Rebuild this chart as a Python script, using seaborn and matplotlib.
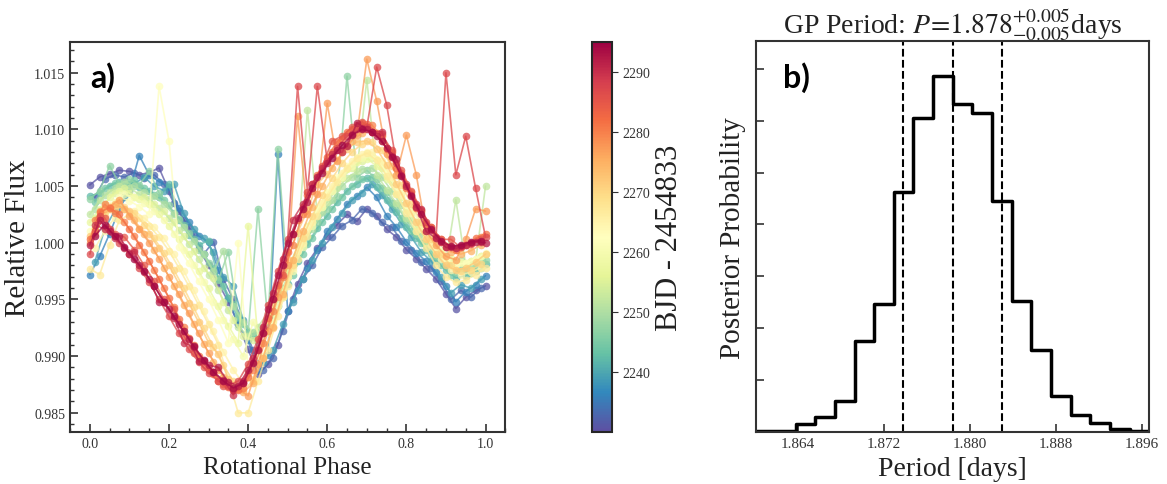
import pandas as pd
import matplotlib
matplotlib.use("Agg")
import matplotlib.pyplot as plt
import seaborn as sns
from matplotlib.ticker import AutoMinorLocator, MultipleLocator

# phase grids of the folded light curve (two cadence offsets)
phase = [0.000, 0.025, 0.050, 0.075, 0.100, 0.125, 0.150, 0.175, 0.200, 0.225,
         0.250, 0.275, 0.300, 0.325, 0.350, 0.375, 0.400, 0.425, 0.450, 0.475,
         0.500, 0.525, 0.550, 0.575, 0.600, 0.625, 0.650, 0.675, 0.700, 0.725,
         0.750, 0.775, 0.800, 0.825, 0.850, 0.875, 0.900, 0.925, 0.950, 0.975,
         1.000]
phase_b = [0.0125, 0.0375, 0.0625, 0.0875, 0.1125, 0.1375, 0.1625, 0.1875, 0.2125, 0.2375,
           0.2625, 0.2875, 0.3125, 0.3375, 0.3625, 0.3875, 0.4125, 0.4375, 0.4625, 0.4875,
           0.5125, 0.5375, 0.5625, 0.5875, 0.6125, 0.6375, 0.6625, 0.6875, 0.7125, 0.7375,
           0.7625, 0.7875, 0.8125, 0.8375, 0.8625, 0.8875, 0.9125, 0.9375, 0.9625, 0.9875]

# relative flux per rotation, named by BJD - 2454833
flux_2231 = [1.0051, 1.0058, 1.0061, 1.0064, 1.0063, 1.0060, 1.0062, 1.0066, 1.0046, 1.0028,
             1.0014, 0.9995, 0.9980, 0.9964, 0.9948, 0.9928, 0.9906, 0.9884, 0.9893, 0.9910,
             0.9940, 0.9964, 0.9982, 0.9995, 1.0006, 1.0016, 1.0025, 1.0019, 1.0030, 1.0024,
             1.0012, 1.0005, 0.9994, 0.9986, 0.9977, 0.9968, 0.9955, 0.9942, 0.9952, 0.9958,
             0.9962]
flux_2236 = [0.9972, 0.9988, 1.0008, 1.0030, 1.0046, 1.0077, 1.0060, 1.0054, 1.0049, 1.0031,
             1.0018, 1.0006, 1.0001, 0.9976, 0.9951, 0.9928, 0.9914, 0.9888, 0.9901, 1.0078,
             0.9940, 0.9958, 0.9978, 0.9994, 1.0010, 1.0021, 1.0034, 1.0041, 1.0049, 1.0040,
             1.0024, 1.0014, 1.0001, 0.9991, 0.9984, 0.9974, 0.9962, 0.9948, 0.9957, 0.9963,
             0.9971]
flux_2242 = [1.0041, 1.0044, 1.0050, 1.0054, 1.0052, 1.0049, 1.0046, 1.0040, 1.0052, 1.0020,
             1.0007, 0.9998, 1.0002, 0.9968, 0.9951, 0.9934, 0.9921, 0.9914, 0.9923, 0.9944,
             0.9964, 0.9984, 0.9999, 1.0013, 1.0024, 1.0036, 1.0046, 1.0052, 1.0057, 1.0049,
             1.0038, 1.0027, 1.0014, 1.0004, 0.9994, 0.9984, 0.9976, 0.9969, 0.9971, 0.9975,
             0.9981]
flux_2247 = [1.0039, 1.0046, 1.0068, 1.0052, 1.0056, 1.0051, 1.0063, 1.0044, 1.0033, 1.0021,
             1.0009, 0.9994, 0.9982, 0.9967, 0.9992, 0.9936, 0.9919, 1.0030, 0.9931, 1.0083,
             0.9970, 0.9990, 1.0005, 1.0018, 1.0030, 1.0041, 1.0147, 1.0058, 1.0064, 1.0056,
             1.0045, 1.0033, 1.0020, 1.0008, 0.9998, 0.9988, 0.9980, 0.9974, 0.9975, 0.9979,
             0.9985]
flux_2252 = [1.0025, 1.0038, 1.0045, 1.0050, 1.0048, 1.0043, 1.0039, 1.0031, 1.0022, 1.0011,
             0.9999, 0.9986, 0.9972, 0.9958, 0.9941, 0.9926, 0.9918, 0.9926, 0.9938, 0.9956,
             0.9977, 0.9996, 1.0117, 1.0025, 1.0036, 1.0048, 1.0057, 1.0063, 1.0144, 1.0060,
             1.0047, 1.0035, 1.0022, 1.0010, 1.0000, 0.9990, 0.9983, 1.0038, 0.9980, 0.9984,
             1.0050]
flux_2257 = [1.0018, 1.0030, 1.0040, 1.0046, 1.0044, 1.0039, 1.0034, 1.0025, 1.0015, 1.0003,
             0.9990, 0.9975, 0.9960, 0.9944, 0.9927, 0.9912, 1.0015, 0.9915, 0.9932, 0.9953,
             0.9976, 0.9997, 1.0015, 1.0030, 1.0044, 1.0055, 1.0065, 1.0071, 1.0074, 1.0068,
             1.0056, 1.0043, 1.0029, 1.0015, 1.0003, 0.9993, 0.9985, 0.9981, 0.9982, 0.9986,
             0.9990]
flux_2262 = [1.0010, 1.0024, 1.0033, 1.0040, 1.0037, 1.0032, 1.0025, 1.0138, 1.0090, 0.9996,
             0.9982, 0.9966, 0.9950, 0.9932, 0.9912, 1.0000, 0.9890, 0.9900, 0.9920, 0.9944,
             0.9970, 0.9993, 1.0013, 1.0030, 1.0045, 1.0058, 1.0068, 1.0076, 1.0080, 1.0074,
             1.0062, 1.0048, 1.0033, 1.0018, 1.0005, 0.9994, 0.9986, 0.9981, 0.9982, 0.9986,
             0.9991]
flux_2267 = [0.9977, 0.9972, 0.9998, 1.0020, 1.0025, 1.0022, 1.0015, 1.0005, 0.9993, 0.9978,
             0.9962, 0.9945, 0.9928, 0.9910, 0.9880, 0.9850, 0.9850, 0.9878, 0.9905, 0.9935,
             0.9962, 0.9986, 1.0006, 1.0024, 1.0040, 1.0054, 1.0066, 1.0075, 1.0079, 1.0073,
             1.0059, 1.0043, 1.0026, 1.0010, 0.9995, 0.9980, 0.9970, 0.9965, 0.9967, 0.9972,
             0.9978]
flux_2272 = [1.0006, 1.0022, 1.0030, 1.0034, 1.0028, 1.0012, 1.0008, 0.9995, 0.9980, 0.9964,
             0.9947, 0.9930, 0.9912, 0.9902, 0.9880, 0.9873, 0.9885, 0.9905, 0.9932, 0.9960,
             0.9986, 1.0009, 1.0029, 1.0052, 1.0061, 1.0073, 1.0083, 1.0089, 1.0090, 1.0083,
             1.0069, 1.0052, 1.0035, 1.0018, 1.0003, 0.9990, 0.9980, 0.9976, 0.9978, 0.9983,
             0.9990]
flux_2277 = [1.0000, 1.0028, 1.0032, 1.0038, 1.0024, 1.0012, 1.0000, 0.9986, 0.9970, 0.9955,
             0.9938, 0.9920, 0.9903, 0.9888, 0.9876, 0.9871, 0.9865, 0.9893, 0.9922, 0.9952,
             0.9980, 1.0112, 1.0025, 1.0043, 1.0123, 1.0072, 1.0086, 1.0095, 1.0162, 1.0125,
             1.0078, 1.0060, 1.0095, 1.0060, 1.0010, 0.9998, 0.9988, 0.9985, 1.0003, 1.0030,
             1.0028]
flux_2282 = [1.0003, 1.0027, 1.0031, 1.0025, 1.0012, 0.9998, 0.9984, 0.9968, 0.9951, 0.9933,
             0.9916, 0.9900, 0.9888, 0.9878, 0.9873, 0.9870, 0.9882, 0.9906, 0.9934, 0.9963,
             0.9992, 1.0020, 1.0042, 1.0060, 1.0076, 1.0089, 1.0098, 1.0104, 1.0105, 1.0097,
             1.0083, 1.0066, 1.0048, 1.0031, 1.0016, 1.0004, 0.9996, 0.9994, 0.9998, 1.0004,
             1.0008]
flux_2287 = [0.9990, 1.0024, 1.0012, 1.0000, 0.9990, 0.9978, 0.9965, 0.9950, 0.9935, 0.9920,
             0.9906, 0.9895, 0.9885, 0.9878, 0.9874, 0.9878, 0.9893, 0.9915, 0.9945, 0.9975,
             1.0003, 1.0138, 1.0045, 1.0138, 1.0072, 1.0084, 1.0094, 1.0100, 1.0102, 1.0155,
             1.0122, 1.0070, 1.0052, 1.0034, 1.0018, 1.0005, 1.0150, 1.0060, 1.0094, 1.0048,
             1.0005]
flux_2292 = [0.9998, 1.0020, 1.0010, 1.0006, 0.9990, 0.9980, 0.9968, 0.9948, 0.9942, 0.9928,
             0.9915, 0.9896, 0.9892, 0.9890, 0.9877, 0.9874, 0.9888, 0.9905, 0.9942, 0.9972,
             1.0000, 1.0022, 1.0036, 1.0058, 1.0070, 1.0082, 1.0085, 1.0106, 1.0100, 1.0094,
             1.0084, 1.0074, 1.0050, 1.0032, 1.0010, 1.0004, 0.9996, 0.9995, 0.9998, 1.0001,
             1.0000]

# rotations sampled on the offset grid
flux_2233 = [1.0040, 1.0056, 1.0060, 1.0058, 1.0062, 1.0057, 1.0060, 1.0052, 1.0035, 1.0020,
             1.0008, 0.9990, 1.0001, 0.9968, 0.9950, 0.9930, 0.9905, 0.9888, 0.9898, 0.9922,
             0.9950, 0.9968, 0.9980, 0.9996, 1.0005, 1.0015, 1.0020, 1.0030, 1.0026, 1.0018,
             1.0014, 1.0002, 0.9994, 0.9983, 0.9978, 0.9966, 0.9950, 0.9958, 0.9952, 0.9960]
flux_2239 = [0.9983, 1.0012, 1.0028, 1.0040, 1.0052, 1.0058, 1.0050, 1.0046, 1.0052, 1.0026,
             1.0012, 1.0004, 0.9992, 0.9970, 0.9962, 0.9932, 0.9918, 0.9895, 0.9905, 0.9928,
             0.9948, 0.9968, 0.9985, 1.0000, 1.0014, 1.0026, 1.0038, 1.0044, 1.0052, 1.0042,
             1.0030, 1.0017, 1.0005, 0.9992, 0.9984, 0.9970, 0.9956, 0.9963, 0.9960, 0.9968]
flux_2244 = [1.0036, 1.0048, 1.0053, 1.0050, 1.0055, 1.0048, 1.0042, 1.0038, 1.0026, 1.0016,
             1.0003, 0.9990, 0.9978, 0.9962, 0.9946, 0.9928, 0.9920, 0.9922, 0.9935, 0.9952,
             0.9972, 0.9990, 1.0004, 1.0018, 1.0030, 1.0040, 1.0050, 1.0056, 1.0058, 1.0048,
             1.0035, 1.0022, 1.0010, 1.0000, 0.9990, 0.9980, 0.9972, 0.9976, 0.9973, 0.9978]
flux_2250 = [1.0030, 1.0042, 1.0048, 1.0054, 1.0050, 1.0045, 1.0041, 1.0034, 1.0025, 1.0014,
             1.0002, 0.9990, 0.9975, 0.9993, 0.9944, 0.9930, 0.9921, 0.9925, 0.9940, 0.9960,
             0.9980, 0.9998, 1.0012, 1.0027, 1.0038, 1.0050, 1.0058, 1.0065, 1.0066, 1.0058,
             1.0046, 1.0033, 1.0020, 1.0008, 0.9998, 0.9988, 0.9982, 0.9985, 0.9978, 0.9983]
flux_2255 = [1.0022, 1.0034, 1.0044, 1.0048, 1.0040, 1.0040, 1.0034, 1.0028, 1.0018, 1.0006,
             0.9993, 0.9978, 0.9969, 0.9948, 0.9932, 0.9918, 0.9914, 0.9922, 0.9938, 0.9958,
             0.9980, 1.0000, 1.0018, 1.0032, 1.0046, 1.0057, 1.0066, 1.0072, 1.0075, 1.0066,
             1.0054, 1.0040, 1.0026, 1.0013, 1.0002, 0.9992, 0.9986, 0.9982, 0.9984, 0.9988]
flux_2260 = [1.0014, 1.0027, 1.0036, 1.0043, 1.0040, 1.0035, 1.0028, 1.0020, 1.0008, 0.9994,
             0.9980, 0.9965, 0.9948, 0.9932, 0.9915, 0.9900, 0.9930, 0.9912, 0.9930, 0.9952,
             0.9975, 0.9996, 1.0015, 1.0032, 1.0046, 1.0058, 1.0068, 1.0075, 1.0077, 1.0070,
             1.0058, 1.0044, 1.0030, 1.0016, 1.0004, 0.9994, 0.9987, 0.9983, 0.9984, 0.9988]
flux_2265 = [0.9995, 1.0010, 1.0022, 1.0030, 1.0028, 1.0022, 1.0014, 1.0004, 0.9990, 0.9975,
             0.9958, 0.9940, 0.9922, 0.9904, 0.9888, 0.9876, 0.9880, 0.9900, 0.9926, 0.9952,
             0.9978, 1.0000, 1.0018, 1.0035, 1.0050, 1.0062, 1.0072, 1.0078, 1.0080, 1.0072,
             1.0058, 1.0042, 1.0026, 1.0012, 0.9998, 0.9986, 0.9976, 0.9972, 0.9974, 0.9978]
flux_2270 = [1.0008, 1.0024, 1.0030, 1.0032, 1.0026, 1.0016, 1.0004, 0.9991, 0.9976, 0.9960,
             0.9943, 0.9925, 0.9908, 0.9892, 0.9878, 0.9870, 0.9878, 0.9898, 0.9925, 0.9953,
             0.9980, 1.0004, 1.0024, 1.0042, 1.0057, 1.0070, 1.0080, 1.0087, 1.0089, 1.0082,
             1.0068, 1.0051, 1.0034, 1.0018, 1.0003, 0.9990, 0.9980, 0.9975, 0.9976, 0.9981]
flux_2275 = [1.0012, 1.0030, 1.0034, 1.0030, 1.0020, 1.0008, 0.9994, 0.9978, 0.9962, 0.9945,
             0.9928, 0.9911, 0.9895, 0.9882, 0.9872, 0.9868, 0.9876, 0.9898, 0.9926, 0.9955,
             0.9985, 1.0010, 1.0032, 1.0050, 1.0066, 1.0080, 1.0090, 1.0097, 1.0098, 1.0090,
             1.0076, 1.0060, 1.0043, 1.0027, 1.0013, 1.0001, 0.9992, 0.9990, 0.9993, 0.9998]
flux_2280 = [1.0020, 1.0034, 1.0026, 1.0018, 1.0006, 0.9992, 0.9976, 0.9960, 0.9943, 0.9926,
             0.9910, 0.9896, 0.9884, 0.9875, 0.9870, 0.9872, 0.9888, 0.9912, 0.9940, 0.9970,
             0.9998, 1.0025, 1.0046, 1.0064, 1.0080, 1.0092, 1.0100, 1.0106, 1.0104, 1.0094,
             1.0080, 1.0062, 1.0045, 1.0028, 1.0014, 1.0003, 0.9997, 0.9996, 1.0000, 1.0005]
flux_2285 = [1.0010, 1.0022, 1.0008, 1.0005, 0.9994, 0.9980, 0.9966, 0.9950, 0.9942, 0.9918,
             0.9903, 0.9890, 0.9886, 0.9874, 0.9870, 0.9876, 0.9895, 0.9920, 0.9950, 0.9972,
             1.0008, 1.0032, 1.0052, 1.0068, 1.0090, 1.0094, 1.0102, 1.0107, 1.0098, 1.0096,
             1.0082, 1.0064, 1.0046, 1.0029, 1.0014, 1.0003, 1.0003, 0.9996, 0.9999, 1.0003]
flux_2290 = [1.0016, 1.0012, 1.0004, 0.9995, 0.9992, 0.9974, 0.9962, 0.9948, 0.9934, 0.9912,
             0.9908, 0.9896, 0.9886, 0.9879, 0.9866, 0.9878, 0.9898, 0.9926, 0.9956, 0.9986,
             1.0020, 1.0034, 1.0052, 1.0066, 1.0078, 1.0080, 1.0096, 1.0101, 1.0098, 1.0098,
             1.0077, 1.0060, 1.0042, 1.0030, 1.0011, 1.0001, 0.9996, 0.9997, 1.0000, 1.0001]
flux_2294 = [1.0006, 1.0016, 1.0006, 0.9996, 0.9986, 0.9975, 0.9962, 0.9948, 0.9935, 0.9922,
             0.9909, 0.9897, 0.9886, 0.9878, 0.9872, 0.9876, 0.9894, 0.9920, 0.9950, 0.9980,
             1.0008, 1.0030, 1.0048, 1.0062, 1.0075, 1.0086, 1.0095, 1.0100, 1.0098, 1.0090,
             1.0076, 1.0059, 1.0041, 1.0025, 1.0012, 1.0002, 0.9997, 0.9998, 1.0001, 1.0002]

cycles_a = {2231: flux_2231, 2236: flux_2236, 2242: flux_2242, 2247: flux_2247,
            2252: flux_2252, 2257: flux_2257, 2262: flux_2262, 2267: flux_2267,
            2272: flux_2272, 2277: flux_2277, 2282: flux_2282, 2287: flux_2287,
            2292: flux_2292}
cycles_b = {2233: flux_2233, 2239: flux_2239, 2244: flux_2244, 2250: flux_2250,
            2255: flux_2255, 2260: flux_2260, 2265: flux_2265, 2270: flux_2270,
            2275: flux_2275, 2280: flux_2280, 2285: flux_2285, 2290: flux_2290,
            2294: flux_2294}

# GP period posterior histogram
period_edges = [1.86010, 1.86193, 1.86376, 1.86559, 1.86742, 1.86925, 1.87108, 1.87290,
                1.87473, 1.87656, 1.87839, 1.88022, 1.88205, 1.88388, 1.88571, 1.88754,
                1.88936, 1.89119, 1.89302, 1.89485, 1.89668]
posterior = [0.26, 0.26, 1.5, 2.9, 6.0, 17.6, 24.7, 46.3, 60.6, 68.5,
             63.2, 61.4, 44.6, 25.2, 15.8, 6.9, 3.2, 1.8, 0.6, 0.26]
period_lines = [1.8738, 1.8784, 1.8830]

rows = []
for grid, cyc in ((phase, cycles_a), (phase_b, cycles_b)):
    for bjd, vals in cyc.items():
        for p, f in zip(grid, vals):
            rows.append({"bjd": bjd, "phase": p, "flux": f})
df = pd.DataFrame(rows).sort_values("bjd", kind="stable")

hist = pd.DataFrame({"center": [(a + b) / 2 for a, b in zip(period_edges[:-1], period_edges[1:])],
                     "weight": posterior})

sns.set_style("white")
plt.rcParams["font.family"] = ["Liberation Serif", "DejaVu Serif"]
plt.rcParams["mathtext.fontset"] = "stix"
plt.rcParams["text.color"] = "#222222"
plt.rcParams["axes.labelcolor"] = "#222222"

fig = plt.figure(figsize=(11.67, 4.85), dpi=100)
ax1 = fig.add_axes([0.060, 0.107, 0.373, 0.804])
cax = fig.add_axes([0.507, 0.107, 0.0171, 0.804])
ax2 = fig.add_axes([0.648, 0.107, 0.337, 0.806])

norm = plt.Normalize(2230, 2295)

#light curves
sns.lineplot(data=df, x="phase", y="flux", hue="bjd", units="bjd", estimator=None,
             palette="Spectral_r", hue_norm=norm, marker="o", markersize=5.5,
             markeredgewidth=0, linewidth=1.2, alpha=0.75, sort=False,
             legend=False, ax=ax1)
ax1.set_xlim(-0.05, 1.05)
ax1.set_ylim(0.9833, 1.0177)
ax1.set_xlabel("Rotational Phase", fontsize=18)
ax1.set_ylabel("Relative Flux", fontsize=21, labelpad=2)
ax1.xaxis.set_major_locator(MultipleLocator(0.2))
ax1.yaxis.set_major_locator(MultipleLocator(0.005))
ax1.xaxis.set_minor_locator(AutoMinorLocator(4))
ax1.yaxis.set_minor_locator(AutoMinorLocator(5))
ax1.tick_params(which="both", direction="in", bottom=True, left=True,
                labelsize=10, colors="#333333")
ax1.tick_params(which="major", length=6, width=1.2)
ax1.tick_params(which="minor", length=3, width=1)
ax1.text(0.046, 0.95, "a)", transform=ax1.transAxes, ha="left", va="top",
         fontsize=23, fontweight="bold", family="Lato", color="black")

sm = plt.cm.ScalarMappable(cmap="Spectral_r", norm=norm)
cb = fig.colorbar(sm, cax=cax)
cb.set_ticks([2240, 2250, 2260, 2270, 2280, 2290])
cb.ax.tick_params(right=True, length=4, labelsize=10, colors="#333333")
cb.set_label("BJD - 2454833", fontsize=22)
cb.outline.set_linewidth(1.5)

#posterior
sns.histplot(data=hist, x="center", weights="weight", bins=period_edges,
             element="step", fill=False, color="black", linewidth=2.5, ax=ax2)
for v in period_lines:
    ax2.axvline(v, color="black", linestyle="--", linewidth=1.5)
ax2.set_xlim(1.8601, 1.8967)
ax2.set_ylim(0, 75.3)
ax2.xaxis.set_major_locator(MultipleLocator(0.008))
ax2.xaxis.set_major_formatter(plt.FormatStrFormatter("%.3f"))
ax2.yaxis.set_major_locator(MultipleLocator(10))
ax2.set_yticklabels([])
ax2.tick_params(direction="in", bottom=True, left=True, labelsize=11,
                colors="#333333", length=6, width=1.2)
ax2.set_xlabel("Period [days]", fontsize=20)
ax2.set_ylabel("Posterior Probability", fontsize=21)
ax2.set_title(r"GP Period: $P\!=\!1.878^{+0.005}_{-0.005}$days", fontsize=20)
ax2.text(0.069, 0.95, "b)", transform=ax2.transAxes, ha="left", va="top",
         fontsize=23, fontweight="bold", family="Lato", color="black")

for ax in (ax1, ax2):
    for s in ax.spines.values():
        s.set_linewidth(1.5)
        s.set_color("#333333")

fig.savefig("out.png", dpi=100)
